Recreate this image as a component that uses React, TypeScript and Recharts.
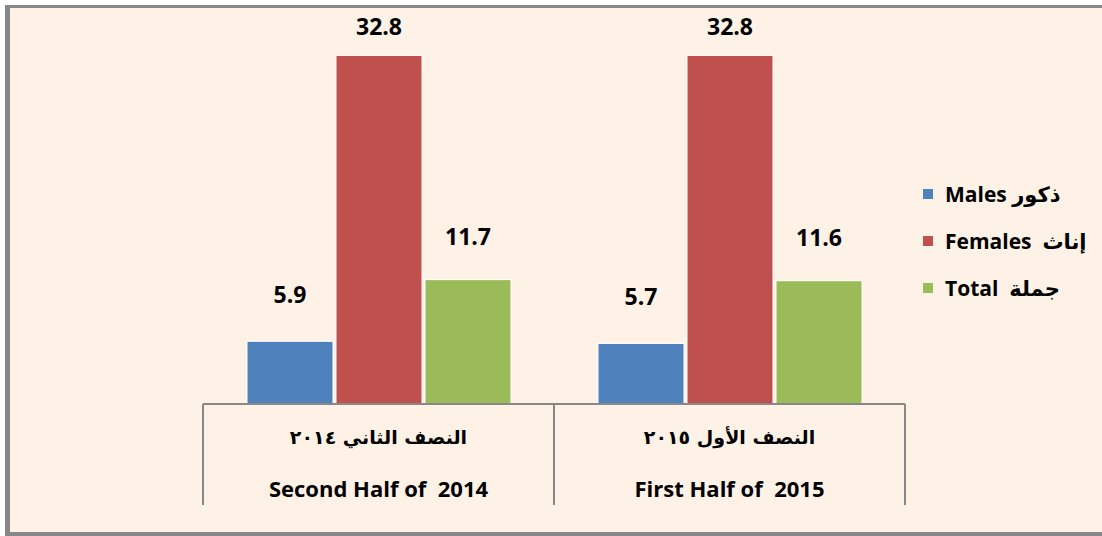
import { BarChart, Bar, XAxis, YAxis, LabelList } from "recharts";

const categoriesAr = ["النصف الثاني ٢٠١٤", "النصف الأول ٢٠١٥"];
const categoriesEn = ["Second Half of  2014", "First Half of  2015"];

const males = [5.9, 5.7];
const females = [32.8, 32.8];
const total = [11.7, 11.6];

const legendLabels = ["Males ذكور", "Females  إناث", "Total  جملة"];
const seriesColors = ["#4F81BD", "#C0504D", "#9BBB59"];

const data = categoriesEn.map((name, i) => ({
  name,
  ar: categoriesAr[i],
  males: males[i],
  females: females[i],
  total: total[i],
}));

const FONT = "'Open Sans', 'DejaVu Sans', sans-serif";
const AR_FONT = "'DejaVu Sans', 'Open Sans', sans-serif";

function CategoryTick(props: any) {
  const { x, y, payload, index } = props;
  const half = payload?.offset ?? 175;
  const row = data[index] ?? data[0];
  return (
    <g>
      <line x1={x - half} x2={x - half} y1={y} y2={y + 101} stroke="#888" strokeWidth={2} />
      <line x1={x + half} x2={x + half} y1={y} y2={y + 101} stroke="#888" strokeWidth={2} />
      <text
        x={x}
        y={y + 40}
        textAnchor="middle"
        fontFamily={AR_FONT}
        fontWeight="bold"
        fontSize={19}
        fill="#000"
      >
        {row.ar}
      </text>
      <text
        x={x}
        y={y + 93}
        textAnchor="middle"
        fontFamily={FONT}
        fontWeight="bold"
        fontSize={22}
        fill="#000"
        style={{ whiteSpace: "pre" }}
      >
        {payload.value}
      </text>
    </g>
  );
}

const labelStyle = { fontFamily: FONT, fontWeight: "bold", fontSize: 23, fill: "#000" };

export default function App() {
  return (
    <div style={{ position: "absolute", left: 0, top: 0, width: 1102, height: 536, overflow: "hidden" }}>
      <div
        style={{
          position: "absolute",
          left: 5,
          top: 5,
          width: 1110,
          height: 531,
          boxSizing: "border-box",
          border: "3px solid #878787",
          borderLeftWidth: 5,
          borderBottomWidth: 4,
          background: "#FEF2E6",
        }}
      />
      <div style={{ position: "absolute", left: 0, top: 0 }}>
        <BarChart
          width={1102}
          height={536}
          data={data}
          margin={{ top: 32, right: 197, bottom: 32, left: 203 }}
          barCategoryGap={44}
          barGap={3}
        >
          <XAxis
            dataKey="name"
            height={100}
            tickLine={false}
            tickSize={0}
            tickMargin={0}
            axisLine={{ stroke: "#888", strokeWidth: 2 }}
            tick={<CategoryTick />}
            interval={0}
          />
          <YAxis hide domain={[0, 35]} />
          <Bar dataKey="males" fill={seriesColors[0]} stroke="#ffffff" strokeWidth={1} isAnimationActive={false}>
            <LabelList dataKey="males" position="top" offset={38} style={labelStyle} />
          </Bar>
          <Bar dataKey="females" fill={seriesColors[1]} stroke="#ffffff" strokeWidth={1} isAnimationActive={false}>
            <LabelList dataKey="females" position="top" offset={20} style={labelStyle} />
          </Bar>
          <Bar dataKey="total" fill={seriesColors[2]} stroke="#ffffff" strokeWidth={1} isAnimationActive={false}>
            <LabelList dataKey="total" position="top" offset={35} style={labelStyle} />
          </Bar>
        </BarChart>
      </div>
      <div style={{ position: "absolute", left: 923, top: 170 }}>
        {legendLabels.map((label, i) => (
          <div key={label} style={{ display: "flex", alignItems: "center", height: 47 }}>
            <span style={{ width: 10, height: 10, background: seriesColors[i], marginRight: 12 }} />
            <span
              style={{
                fontFamily: FONT,
                fontWeight: "bold",
                fontSize: 21,
                color: "#000",
                whiteSpace: "pre",
              }}
            >
              {label}
            </span>
          </div>
        ))}
      </div>
    </div>
  );
}
